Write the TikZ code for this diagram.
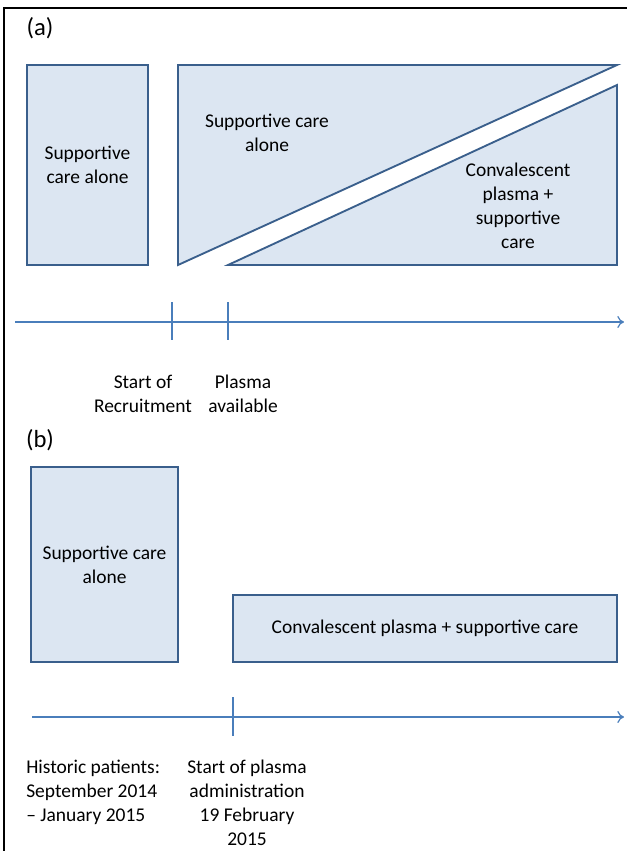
\documentclass[tikz,border=0pt]{standalone}
\usepackage{fontspec}
\setmainfont{Carlito}
\usetikzlibrary{positioning, arrows.meta}
\definecolor{boxfill}{HTML}{DCE6F2}
\definecolor{boxline}{HTML}{3A5F8C}
\definecolor{axisline}{HTML}{4A7EBB}

\begin{document}
\begin{tikzpicture}[
  x=0.75pt, y=-0.75pt,
  box/.style={draw=boxline, fill=boxfill, line width=1.4pt, inner sep=0pt, align=center,
    font=\fontsize{14.6}{18}\selectfont},
  lbl/.style={align=center, font=\fontsize{14.6}{18}\selectfont, inner sep=0pt},
  tag/.style={font=\fontsize{18.5}{22}\selectfont, inner sep=0pt},
  axis/.style={axisline, line width=0.9pt, -{To[length=5pt,width=9pt]}},
  tick/.style={axisline, line width=0.9pt},
  ]
  \useasboundingbox (0,0) rectangle (627,851);
  % frame
  \draw[black, line width=2pt] (627,8) -- (4,8) -- (4,851);

  % ---------- (a) ----------
  \node[tag] (taga) at (40,28) {(a)};
  \node[box, minimum width=90.75pt, minimum height=150pt] (histA) at (87.5,165)
    {Supportive\\care alone};
  % two triangles
  \filldraw[box] (178,65) -- (617,65) -- (178,265) -- cycle;
  \filldraw[box] (228,265) -- (617,85) -- (617,265) -- cycle;
  \node[lbl] (suppA) at (267,133) {Supportive care\\alone};
  \node[lbl] (convA) at (518,206) {Convalescent\\plasma +\\supportive\\care};

  % time line
  \coordinate (a start) at (15,322);
  \coordinate (a end) at (624,322);
  \draw[axis] (a start) -- (a end);
  \coordinate (recruit) at (172,322);
  \coordinate (plasma) at (228,322);
  \draw[tick] (recruit) ++(0,-20) -- ++(0,38);
  \draw[tick] (plasma) ++(0,-20) -- ++(0,38);
  \node[lbl] (recruitlbl) at (143,394) {Start of\\Recruitment};
  \node[lbl] (plasmalbl) at (243,394) {Plasma\\available};

  % ---------- (b) ----------
  \node[tag] (tagb) at (40,440) {(b)};
  \node[box, minimum width=110.25pt, minimum height=146.25pt] (histB) at (104.5,564.5)
    {Supportive care\\alone};
  \node[box, minimum width=288pt, minimum height=50.25pt] (convB) at (425,628.5)
    {Convalescent plasma + supportive care};

  % time line
  \coordinate (b start) at (32,717);
  \coordinate (b end) at (624,717);
  \draw[axis] (b start) -- (b end);
  \coordinate (admin) at (233,717);
  \draw[tick] (admin) ++(0,-20) -- ++(0,39);
  \node[lbl, align=left, anchor=north west] (historic) at (26,760)
    {Historic patients:\\September 2014\\-- January 2015};
  \node[lbl, anchor=north] (adminlbl) at (247,760)
    {Start of plasma\\administration\\19 February\\2015};
\end{tikzpicture}
\end{document}
